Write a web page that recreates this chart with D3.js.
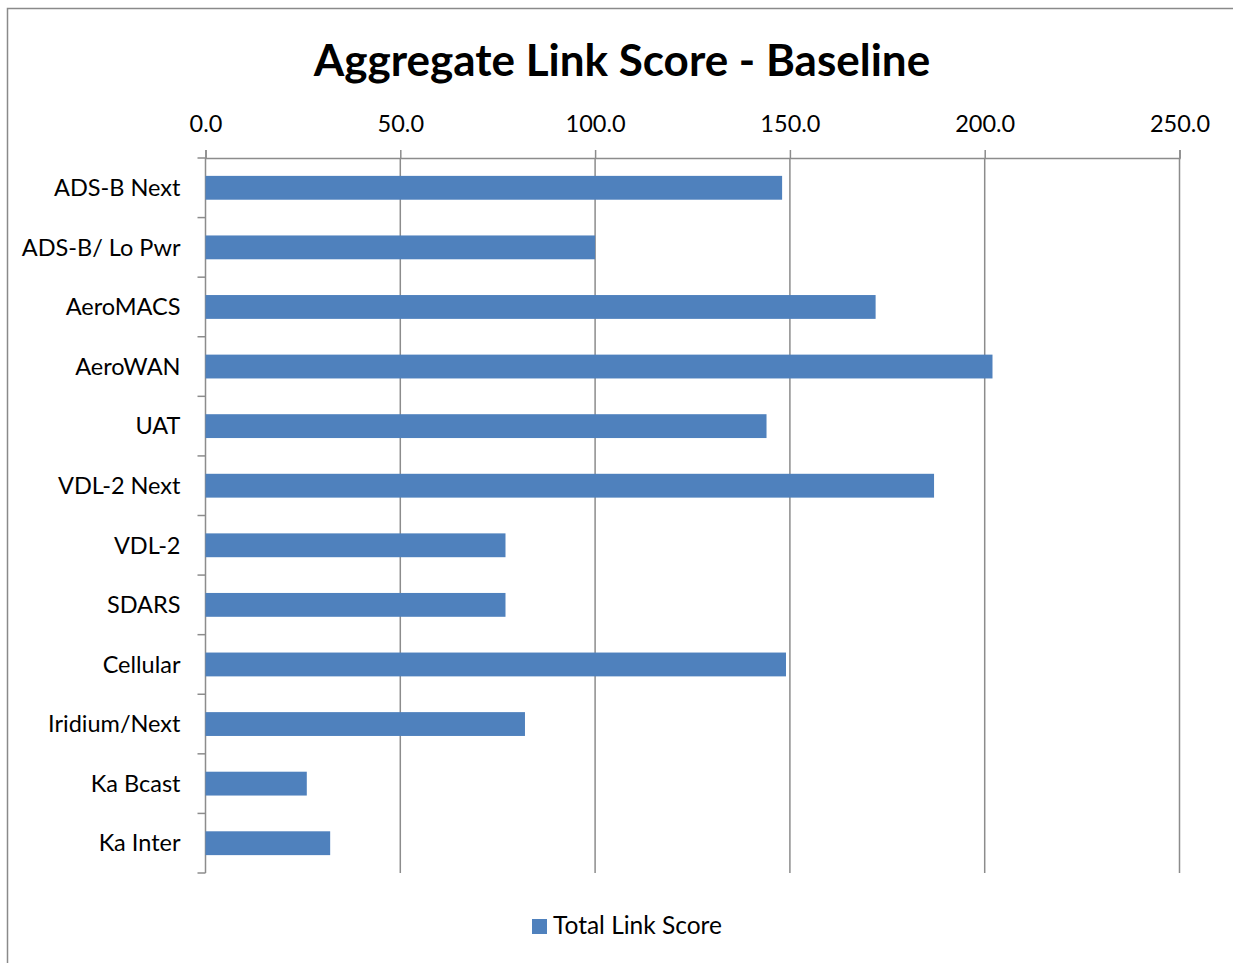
<!DOCTYPE html>
<html><head><meta charset="utf-8">
<script src="https://cdn.jsdelivr.net/npm/d3@7"></script>
<style>html,body{margin:0;padding:0;background:#fff;}svg{display:block;}</style>
</head><body>
<script>
const categories = ["ADS-B Next","ADS-B/ Lo Pwr","AeroMACS","AeroWAN","UAT","VDL-2 Next","VDL-2","SDARS","Cellular","Iridium/Next","Ka Bcast","Ka Inter"];
const values = [148,100,172,202,144,187,77,77,149,82,26,32];
const xTicks = [0,50,100,150,200,250];
const title = "Aggregate Link Score - Baseline";
const seriesName = "Total Link Score";

(function () {
const W = 1233, H = 963;
const font = "Lato, 'Open Sans', sans-serif";
const barColor = "#4F81BD", gridColor = "#8c8c8c";
const svg = d3.select("body").append("svg").attr("width", W).attr("height", H);
svg.append("rect").attr("width", W).attr("height", H).attr("fill", "#fff");
// chart border
svg.append("rect").attr("x", 7.5).attr("y", 8.5).attr("width", 1240).attr("height", 980)
  .attr("fill", "none").attr("stroke", "#8a8a8a").attr("stroke-width", 1.5);

const pLeft = 205.5, pRight = 1179.5, pTop = 158, pBottom = 873;
const x = d3.scaleLinear().domain([0, 250]).range([pLeft, pRight]);
const y = d3.scaleBand().domain(categories).range([pTop, pBottom]).paddingInner(0.6).paddingOuter(0.3);

// title
svg.append("text").attr("x", 622).attr("y", 76).attr("text-anchor", "middle")
  .attr("font-family", font).attr("font-weight", "bold").attr("font-size", 44).attr("fill", "#000").text(title);

// vertical gridlines
svg.append("g").selectAll("line").data(xTicks.slice(1)).join("line")
  .attr("x1", d => x(d)).attr("x2", d => x(d)).attr("y1", pTop).attr("y2", pBottom)
  .attr("stroke", gridColor).attr("stroke-width", 1.5);

// top axis
const xAxis = d3.axisTop(x).tickValues(xTicks).tickSize(8).tickFormat(d3.format(".1f"));
const gx = svg.append("g").attr("transform", `translate(0,${pTop})`).call(xAxis);
gx.select(".domain").attr("stroke", gridColor).attr("stroke-width", 1.5);
gx.selectAll(".tick line").attr("stroke", gridColor).attr("stroke-width", 1.5);
gx.selectAll(".tick text").attr("font-family", font).attr("font-size", 23.5).attr("fill", "#000")
  .attr("y", -26).attr("dy", 0);

// left axis (category boundaries as ticks)
const bandStep = (pBottom - pTop) / categories.length;
const gy = svg.append("g");
gy.append("line").attr("x1", pLeft).attr("x2", pLeft).attr("y1", pTop).attr("y2", pBottom)
  .attr("stroke", gridColor).attr("stroke-width", 1.5);
gy.selectAll("line.tk").data(d3.range(categories.length + 1)).join("line").attr("class", "tk")
  .attr("x1", pLeft - 8).attr("x2", pLeft).attr("y1", i => pTop + i * bandStep).attr("y2", i => pTop + i * bandStep)
  .attr("stroke", gridColor).attr("stroke-width", 1.5);
const yAxis = d3.axisLeft(y).tickSize(0).tickPadding(0);
const gyl = svg.append("g").attr("transform", `translate(${pLeft},0)`).call(yAxis);
gyl.select(".domain").remove();
gyl.selectAll(".tick text").attr("font-family", font).attr("font-size", 23.5).attr("fill", "#000")
  .attr("x", -25).attr("dy", "0.35em");

// bars
svg.append("g").selectAll("rect").data(categories).join("rect")
  .attr("x", x(0)).attr("y", d => y(d)).attr("height", y.bandwidth())
  .attr("width", (d, i) => x(values[i]) - x(0)).attr("fill", barColor);

// legend
const lg = svg.append("g").attr("transform", "translate(532,919)");
lg.append("rect").attr("width", 15).attr("height", 15).attr("fill", barColor);
lg.append("text").attr("x", 21).attr("y", 15).attr("font-family", font).attr("font-size", 24.5)
  .attr("fill", "#000").text(seriesName);
})();
</script>
</body></html>
